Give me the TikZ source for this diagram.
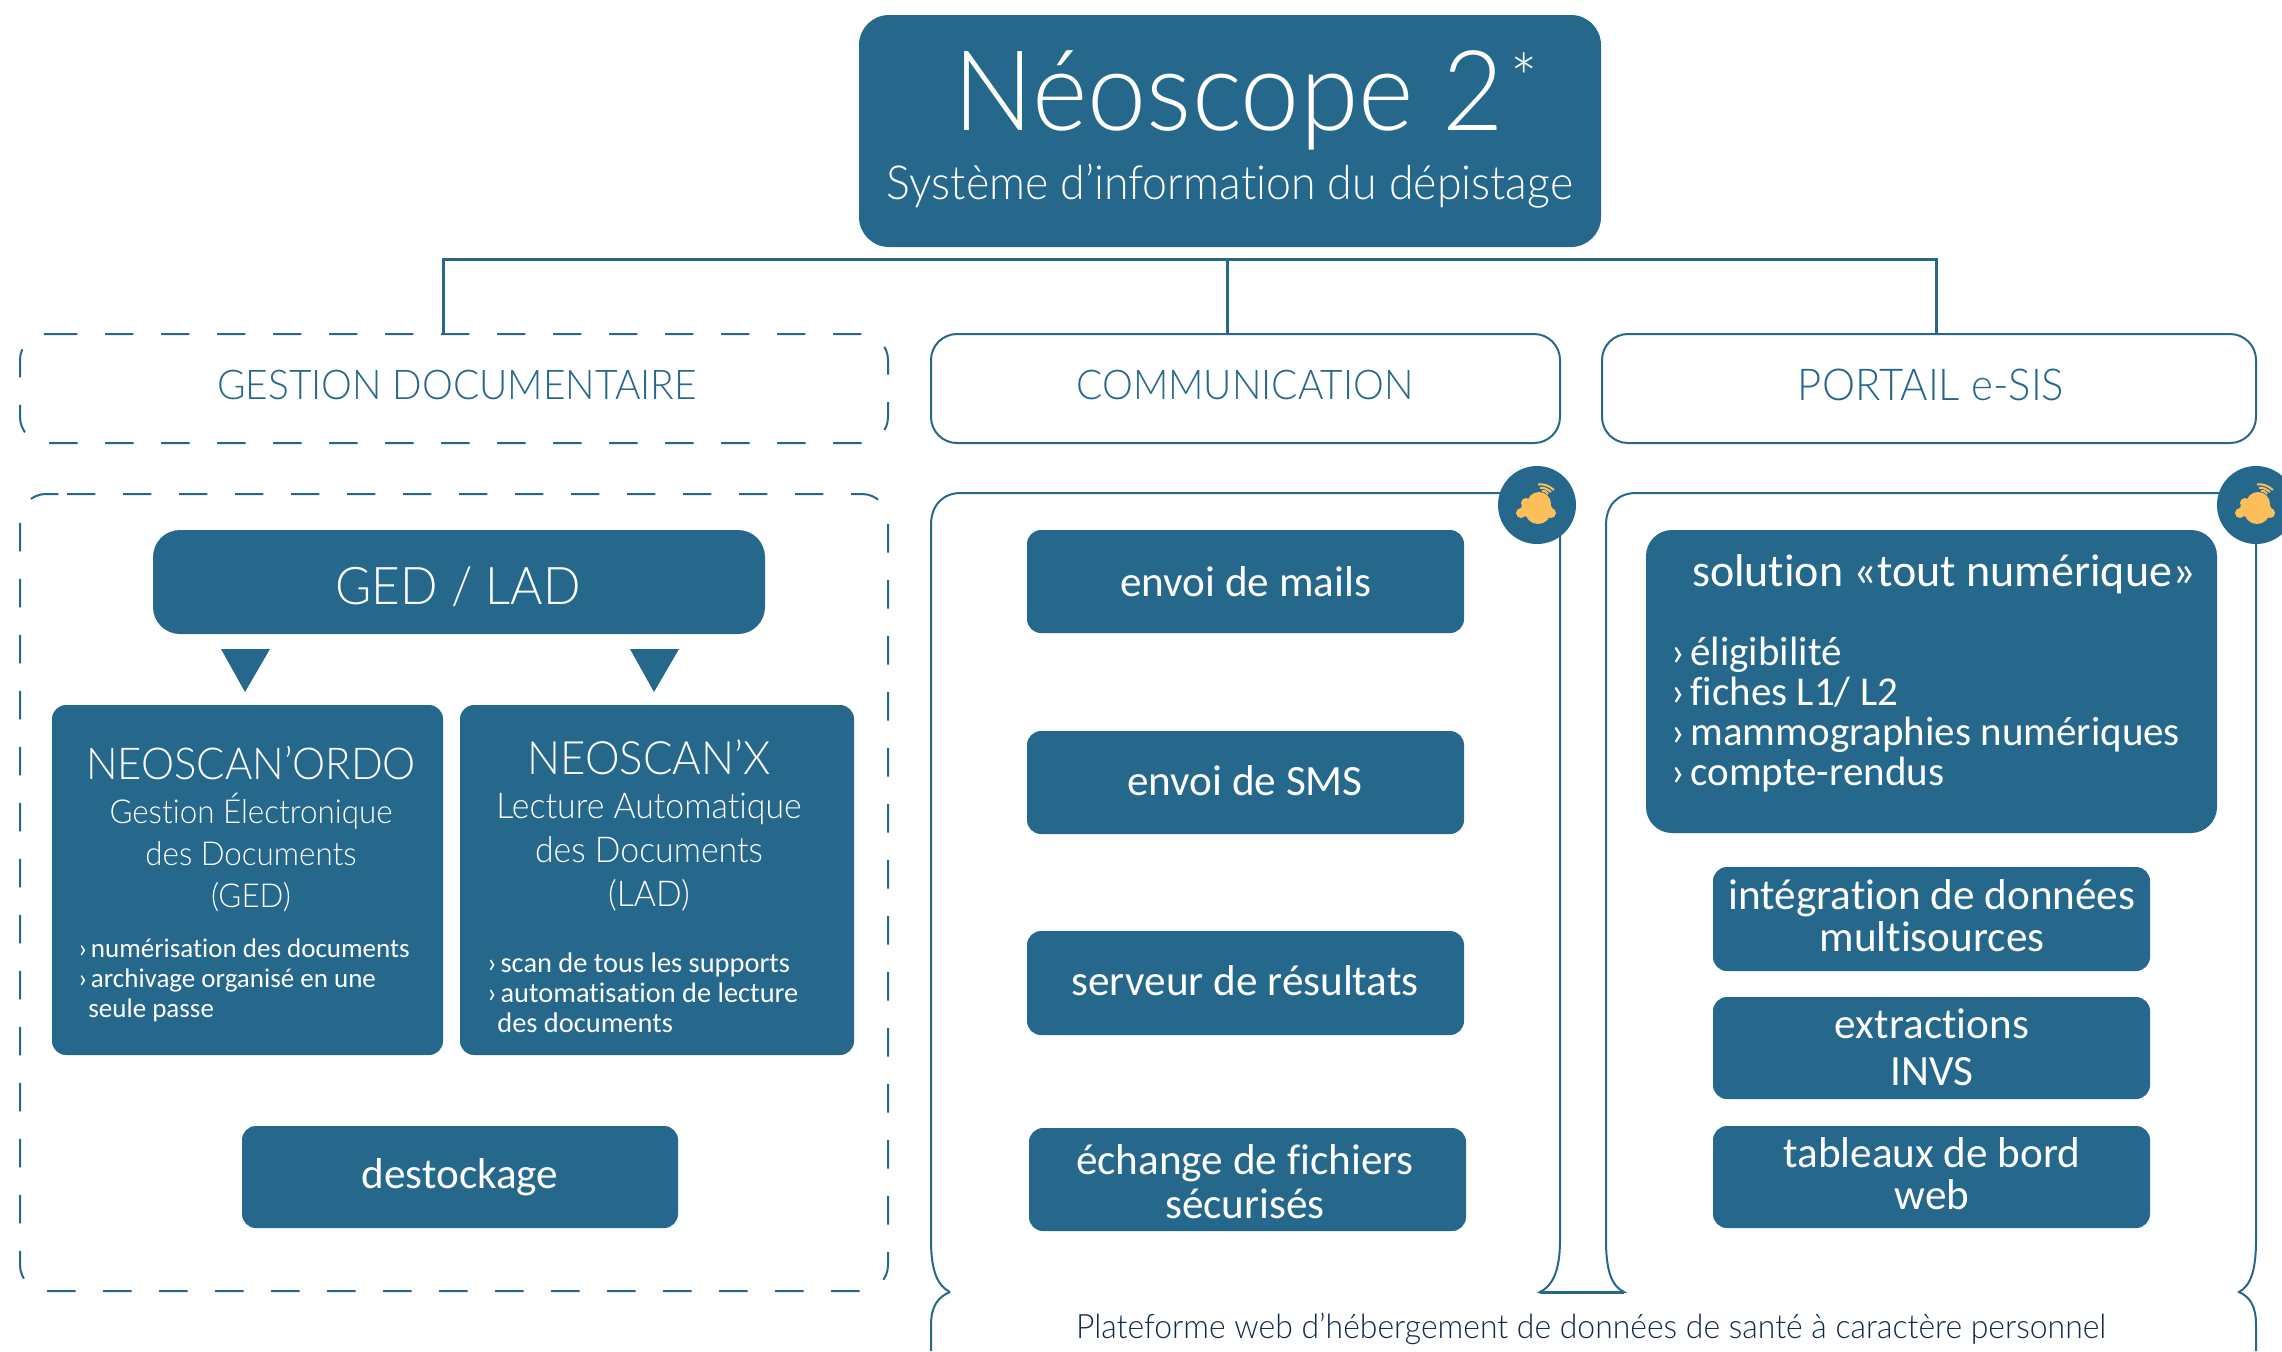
\documentclass[tikz,border=0pt]{standalone}
\usepackage{fontspec}
\setmainfont[Ligatures=NoCommon]{Carlito}
\newfontfamily\thin[FakeStretch=0.95,Ligatures=NoCommon]{Lato Light}
\definecolor{nblue}{HTML}{25688C}
\definecolor{navy}{HTML}{12294B}
\definecolor{ocloud}{HTML}{FDBF5A}
\newcommand{\fs}[2]{\fontsize{#1}{#2}\selectfont}
\newcommand{\itm}{›\hspace{-0.1em}\ }
\tikzset{
  px/.style={x=0.5pt,y=-0.5pt},
  bluebox/.style={fill=nblue,text=white,inner sep=0pt,align=center,anchor=center},
  headbox/.style={draw=nblue,line width=1pt,text=nblue,inner sep=0pt,align=center,anchor=center,rounded corners=13pt},
  hollow/.style={inner sep=0pt,anchor=center},
  dashline/.style={draw=nblue,line width=1pt,rounded corners=13pt,dash pattern=on 14.2pt off 13.8pt},
  label/.style={inner sep=0pt,align=center,anchor=center,text=white},
  leftlabel/.style={inner sep=0pt,align=left,anchor=west,text=white},
  panel/.style={draw=nblue,line width=1pt},
  conn/.style={draw=nblue,line width=1.5pt},
  tri/.style={fill=nblue},
}
\newcommand{\bx}[8]{% style, name, x1,y1,x2,y2, radius, text
  \node[#1,minimum width={(#5-#3)*0.5pt},minimum height={(#6-#4)*0.5pt},rounded corners=#7*0.5pt] (#2) at ({(#3+#5)/2},{(#4+#6)/2}) {#8};}
\newcommand{\cloudicon}[2]{%
  \begin{scope}[shift={(#1,#2)}]
    \fill[nblue] (0,0) circle (39);
    \fill[ocloud] (2,-1) circle (12) (1,6) circle (13) (-11,-2) circle (5) (-16,8) circle (5) (14,8) circle (5) (0,9) circle (9.5) (-8,4) circle (8) (8,6) circle (8);
    \draw[ocloud,line width=1pt] (1,-20.5) .. controls (6,-21.5) and (12,-19.5) .. (17,-15);
    \draw[ocloud,line width=1pt] (3,-17) .. controls (7,-18) and (10,-16) .. (14,-13);
    \draw[ocloud,line width=1pt] (5,-14) .. controls (7,-15) and (8,-14) .. (11,-11);
  \end{scope}}
\begin{document}
\begin{tikzpicture}[px]
\clip (0,0) rectangle (2282,1351);
% title
\bx{bluebox}{title}{859}{15}{1601}{247}{30}{}
\node[label,font=\thin\fs{55.8}{60}] (t1) at (1229,100) {Néoscope 2};
\node[label,font=\thin\fs{34}{36}] (t1s) at (1524,78) {*};
\node[label,font=\thin\fs{23.5}{28}] (t2) at (1230,186) {Système d’information du dépistage};
% headers
\bx{hollow}{gd}{20}{334}{888}{443}{26}{}
\draw[dashline] (49,334) -- (888,334) -- (888,443) -- (20,443) -- (20,334) -- (49,334);
\bx{headbox}{co}{931}{334}{1560}{443}{26}{}
\bx{headbox}{po}{1602}{334}{2256}{443}{26}{}
\node[label,text=nblue,font=\thin\fs{20.5}{24}] (gdt) at (457,385) {GESTION DOCUMENTAIRE};
\node[label,text=nblue,font=\thin\fs{20.5}{24}] (cot) at (1245,385) {COMMUNICATION};
\node[label,text=nblue,font=\thin\fs{22}{24}] (pot) at (1931,385) {PORTAIL e-SIS};
% tree
\coordinate (bl) at (443,259);
\coordinate (bm) at (1227,259);
\coordinate (br) at (1936,259);
\draw[conn] (gd.north -| bl) -- (bl) -- (br) -- (po.north -| br);
\draw[conn] (bm) -- (co.north -| bm);
% panels
\draw[dashline] (67,494) -- (888,494) -- (888,1291) -- (20,1291) -- (20,494) -- (67,494);
\draw[panel] (950,1292) .. controls (938,1286) and (931,1272) .. (931,1240) -- (931,525) .. controls (931,505) and (943,493) .. (961,493) -- (1520,493);
\draw[panel] (1560,530) -- (1560,1240) .. controls (1560,1272) and (1552,1286) .. (1540,1292) -- (1624,1292) .. controls (1612,1286) and (1606,1272) .. (1606,1240) -- (1606,525) .. controls (1606,505) and (1618,493) .. (1636,493) -- (2240,493);
\draw[panel] (2256,530) -- (2256,1240) .. controls (2256,1272) and (2250,1286) .. (2239,1292) .. controls (2250,1297) and (2256,1306) .. (2256,1325) -- (2256,1351);
\draw[panel] (950,1292) .. controls (938,1297) and (931,1306) .. (931,1325) -- (931,1351);
\draw[line width=1.5pt,nblue] (1540,1292) -- (1624,1292);
\cloudicon{1537}{505}
\cloudicon{2256}{505}
% GED
\bx{bluebox}{ged}{153}{530}{765}{634}{27}{}
\node[label,font=\thin\fs{26}{30}] (gedt) at (458,587) {GED / LAD};
\fill[tri] (221,649) -- (270,649) -- (245,692) -- cycle;
\fill[tri] (630,649) -- (679,649) -- (654,692) -- cycle;
\bx{bluebox}{ordo}{52}{705}{443}{1055}{14}{}
\bx{bluebox}{lad}{460}{705}{854}{1055}{14}{}
\node[label,font=\thin\fs{22}{24}] (ordot) at (251,763) {NEOSCAN’ORDO};
\node[label,font=\thin\fs{16.5}{21}] (ordos) at (251,852) {Gestion Électronique\\des Documents\\(GED)};
\node[leftlabel,font=\fs{13.5}{15}] (ordol) at (78,980) {\itm numérisation des documents\\\itm archivage organisé en une\\\hspace*{5pt}seule passe};
\node[label,font=\thin\fs{23}{24}] (ladt) at (649,757) {NEOSCAN’X};
\node[label,font=\thin\fs{17.8}{22}] (lads) at (649,852) {Lecture Automatique\\des Documents\\(LAD)};
\node[leftlabel,font=\fs{14.2}{15}] (ladl) at (487,993) {\itm scan de tous les supports\\\itm automatisation de lecture\\\hspace*{5pt}des documents};
\bx{bluebox}{dest}{242}{1126}{678}{1228}{14}{}
\node[label,font=\fs{21.6}{24}] (destt) at (460,1177) {destockage};
% communication
\bx{bluebox,font=\fs{21.6}{24}}{mail}{1027}{530}{1464}{633}{14}{envoi de mails}
\bx{bluebox,font=\fs{21.6}{24}}{sms}{1027}{731}{1464}{834}{14}{}
\node[label,font=\fs{21.6}{24}] (smst) at (1245,781) {envoi de SMS};
\bx{bluebox}{res}{1027}{931}{1464}{1035}{14}{}
\node[label,font=\fs{21.6}{24}] (rest) at (1245,981) {serveur de résultats};
\bx{bluebox}{ech}{1029}{1128}{1466}{1231}{14}{}
\node[label,font=\fs{21.6}{22}] (echt) at (1245,1182) {échange de fichiers\\sécurisés};
% portal
\bx{bluebox}{sol}{1646}{530}{2217}{833}{26}{}
\node[label,font=\fs{23}{26}] (solt) at (1944,574) {solution «tout numérique»};
\node[leftlabel,font=\fs{20.5}{20}] (soll) at (1671,715) {\itm éligibilité\\\itm fiches L1/ L2\\\itm mammographies numériques\\\itm compte-rendus};
\bx{bluebox}{int}{1713}{867}{2150}{971}{14}{}
\node[label,font=\fs{21.6}{21}] (intt) at (1932,916) {intégration de données\\multisources};
\bx{bluebox}{ext}{1713}{997}{2150}{1099}{14}{}
\node[label,font=\fs{21.6}{23.3}] (extt) at (1932,1047) {extractions\\INVS};
\bx{bluebox}{tab}{1713}{1126}{2150}{1228}{14}{}
\node[label,font=\fs{21.6}{21}] (tabt) at (1932,1174) {tableaux de bord\\web};
\node[label,text=navy,font=\thin\fs{16.8}{20}] (plat) at (1591,1329) {Plateforme web d’hébergement de données de santé à caractère personnel};
\end{tikzpicture}
\end{document}
